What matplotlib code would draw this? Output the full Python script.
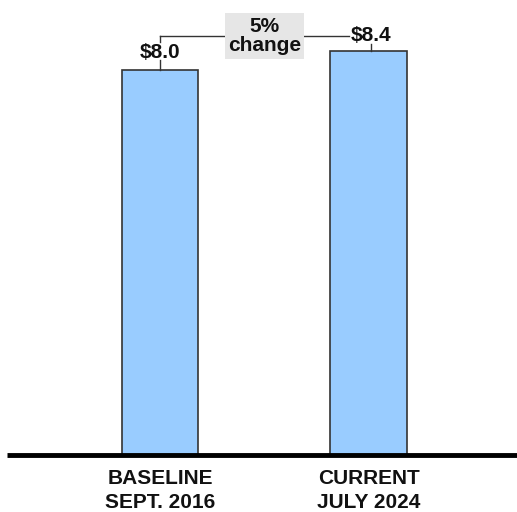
import matplotlib
matplotlib.use('Agg')
from matplotlib import pyplot as plt
from matplotlib.patches import Rectangle

categories = ['BASELINE\nSEPT. 2016', 'CURRENT\nJULY 2024']
values = [8.0, 8.4]
value_labels = ['$8.0', '$8.4']
change_label = '5%\nchange'

plt.rcParams['font.family'] = ['Liberation Sans', 'DejaVu Sans']

fig = plt.figure(figsize=(5.17, 5.12), dpi=100)
ax = fig.add_axes([0, 0, 1, 1])
ax.set_xlim(-0.767, 1.712)
ax.set_ylim(-1.185, 9.459)
ax.axis('off')

x = [0, 1]
ax.bar(x, values, width=0.365, color='#99CCFF', edgecolor='#333333', linewidth=1.2, zorder=2)
ax.plot([-0.734, 1.712], [0, 0], color='black', linewidth=3.5, solid_capstyle='butt', zorder=3)

for xi, cat in zip(x, categories):
    ax.text(xi, -0.29, cat, ha='center', va='top', fontsize=15, fontweight='bold',
            linespacing=1.35, color='#111111')

# value labels with small ticks
lc = '#333333'
bracket_y = 8.71
ax.plot([0, 0], [values[0], values[0] + 0.22], color=lc, lw=1)
ax.text(0, values[0] + 0.25, value_labels[0], ha='center', va='baseline', fontsize=15,
        fontweight='bold', color='#111111')
ax.plot([0, 0], [bracket_y - 0.13, bracket_y], color=lc, lw=1)
ax.plot([0, 0.312], [bracket_y, bracket_y], color=lc, lw=1)

ax.plot([1.01, 1.01], [values[1], values[1] + 0.15], color=lc, lw=1)
ax.text(1.01, values[1] + 0.2, value_labels[1], ha='center', va='baseline', fontsize=15,
        fontweight='bold', color='#111111')
ax.plot([0.69, 0.905], [bracket_y, bracket_y], color=lc, lw=1)

# change box
ax.add_patch(Rectangle((0.312, bracket_y - 0.48), 0.378, 0.96, facecolor='#E6E6E6',
                       edgecolor='none', zorder=4))
ax.text(0.5, bracket_y, change_label, ha='center', va='center', fontsize=15,
        fontweight='bold', linespacing=1.0, color='#111111', zorder=5)

fig.savefig('out.png', dpi=100)
